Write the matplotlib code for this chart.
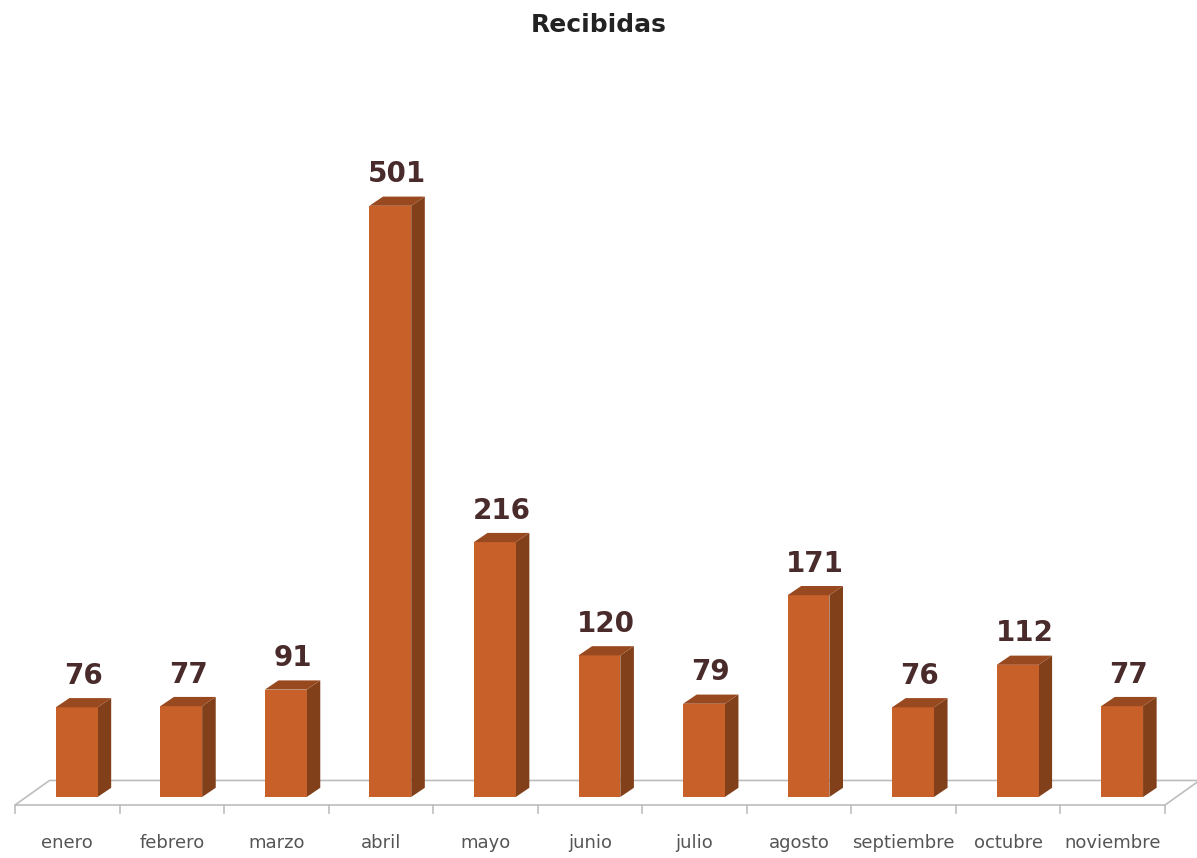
import numpy as np
import matplotlib.pyplot as plt
from matplotlib.patches import Polygon

# --- Data ---
meses = ['enero', 'febrero', 'marzo', 'abril', 'mayo', 'junio',
         'julio', 'agosto', 'septiembre', 'octubre', 'noviembre']
recibidas = [76, 77, 91, 501, 216, 120, 79, 171, 76, 112, 77]

# colores de las caras de la barra
c_frente = '#C8602A'
c_lado = '#82401A'
c_arriba = '#99491F'

fig = plt.figure(figsize=(11.97, 8.58), dpi=100)
ax = fig.add_axes([15 / 1197, 0, 1150 / 1197, 1])
ax.set_xlim(-0.5, 10.5)
ax.set_ylim(-51.7, 675.4)
ax.axis('off')

x = np.arange(len(meses))
ancho = 0.4
desplaz = 0.09      # las barras quedan algo a la derecha del centro
dx, dy = 0.13, 7.8  # profundidad del efecto 3D

# --- piso ---
piso = Polygon([(-0.5, -6.8), (10.5, -6.8), (10.5 + 0.33, 14), (-0.5 + 0.33, 14)],
               closed=True, facecolor='white', edgecolor='#bdbdbd', lw=1.2,
               clip_on=False, zorder=1)
ax.add_patch(piso)
for t in np.arange(-0.5, 11, 1):
    ax.plot([t, t], [-6.8, -13.5], color='#bdbdbd', lw=1.2, clip_on=False, zorder=1)

# --- barras ---
xb = x + desplaz
ax.bar(xb, recibidas, width=ancho, color=c_frente, zorder=3)
for xi, v in zip(xb, recibidas):
    x0, x1 = xi - ancho / 2, xi + ancho / 2
    lado = Polygon([(x1, 0), (x1 + dx, dy), (x1 + dx, v + dy), (x1, v)],
                   closed=True, facecolor=c_lado, edgecolor='none', zorder=2)
    arriba = Polygon([(x0, v), (x1, v), (x1 + dx, v + dy), (x0 + dx, v + dy)],
                     closed=True, facecolor=c_arriba, edgecolor='none', zorder=3)
    ax.add_patch(lado)
    ax.add_patch(arriba)
    ax.text(xi + dx / 2, v + dy + 7, str(v), ha='center', va='bottom',
            fontsize=20, fontweight='bold', color='#4A2B2B', zorder=4)

# --- etiquetas de meses ---
for xi, m in zip(x, meses):
    ax.text(xi, -39, m, ha='center', va='center', fontsize=13, color='#555555')

fig.text(0.5, 1 - 25 / 858, 'Recibidas', ha='center', va='center',
         fontsize=18, fontweight='bold', color='#222222')

plt.savefig('out.png', dpi=100)
